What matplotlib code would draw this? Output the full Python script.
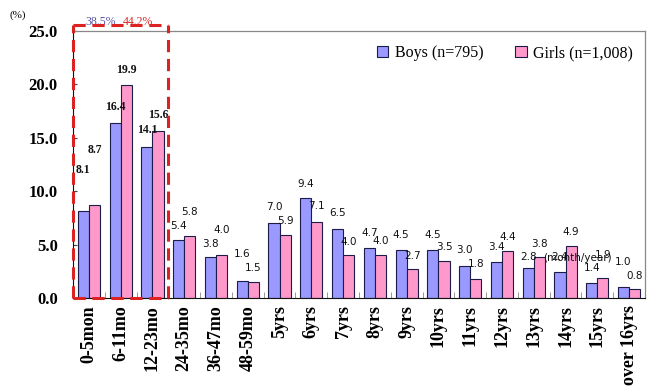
import matplotlib
matplotlib.use("Agg")
import matplotlib.pyplot as plt
import numpy as np

categories = ["0-5mon", "6-11mo", "12-23mo", "24-35mo", "36-47mo", "48-59mo",
              "5yrs", "6yrs", "7yrs", "8yrs", "9yrs", "10yrs", "11yrs", "12yrs",
              "13yrs", "14yrs", "15yrs", "over 16yrs"]
boys = [8.1, 16.4, 14.1, 5.4, 3.8, 1.6, 7.0, 9.4, 6.5, 4.7, 4.5, 4.5, 3.0, 3.4, 2.8, 2.4, 1.4, 1.0]
girls = [8.7, 19.9, 15.6, 5.8, 4.0, 1.5, 5.9, 7.1, 4.0, 4.0, 2.7, 3.5, 1.8, 4.4, 3.8, 4.9, 1.9, 0.8]
yticks = [0, 5, 10, 15, 20, 25]
boys_label = "Boys (n=795)"
girls_label = "Girls (n=1,008)"
share_boys = "38.5%"
share_girls = "44.2%"

# label vertical offsets (pixels above bar top)
boys_dy = [41, 16, 17, 14, 13, 27, 16, 14, 16, 15, 15, 15, 16, 15, 11, 15, 15, 25]
girls_dy = [55, 15, 16, 24, 25, 14, 14, 16, 13, 14, 13, 14, 15, 14, 13, 14, 23, 13]

boy_col = "#9999FF"
girl_col = "#FF99CC"
edge = "#1c1c48"
serif = "Liberation Serif"

fig = plt.figure(figsize=(6.55, 3.9), dpi=100)
ax = fig.add_axes([73/655, 1-298/390, (645-73)/655, (298-31)/390])

x = np.arange(len(categories))
w = 0.35
ax.bar(x - w/2, boys, w, color=boy_col, edgecolor=edge, linewidth=0.8, label=boys_label, zorder=2)
ax.bar(x + w/2, girls, w, color=girl_col, edgecolor=edge, linewidth=0.8, label=girls_label, zorder=2)

for i in range(len(categories)):
    if i < 3:
        kw = dict(family=serif, fontweight="bold", fontsize=8.5)
    else:
        kw = dict(family="DejaVu Sans", fontsize=7.5)
    ax.annotate(f"{boys[i]:.1f}", (x[i] - w/2, boys[i]), xytext=(0, boys_dy[i]),
                textcoords="offset pixels", ha="center", va="center", color="#111111", **kw)
    ax.annotate(f"{girls[i]:.1f}", (x[i] + w/2, girls[i]), xytext=(0, girls_dy[i]),
                textcoords="offset pixels", ha="center", va="center", color="#111111", **kw)

ax.set_xlim(-0.5, len(categories) - 0.5)
ax.set_ylim(0, 25)
ax.set_yticks(yticks)
ax.set_yticklabels([f"{v:.1f}" for v in yticks], family=serif, fontweight="bold", fontsize=12)
ax.set_xticks(x)
ax.set_xticklabels(categories, rotation=90, family=serif, fontweight="bold", fontsize=13)
ax.tick_params(axis="x", which="major", length=0, pad=5)
ax.set_xticks(np.arange(len(categories) + 1) - 0.5, minor=True)
ax.tick_params(axis="x", which="minor", direction="in", length=4, color="#888888")
ax.tick_params(axis="y", direction="in", length=3, pad=11, color="#444444")

for s in ["top", "right"]:
    ax.spines[s].set_color("#888888")
    ax.spines[s].set_linewidth(0.9)
ax.spines["bottom"].set_color("#111111")
ax.spines["left"].set_color("#111111")

# red dashed box around the first three groups
red = "#DD2222"
top = 25.55
x0, x1 = -0.5, 2.5
lkw = dict(color=red, linewidth=2.2, linestyle=(0, (4, 2.2)), clip_on=False, zorder=5)
ax.plot([x0, x0], [0, top], **lkw)
ax.plot([x1, x1], [0, top], **lkw)
ax.plot([x0, x1], [top, top], **lkw)
ax.plot([x0, x1], [0, 0], **lkw)

ax.text(0.38, 25.85, share_boys, color="#5555AA", family=serif, fontsize=8.5, ha="center", va="center", clip_on=False, zorder=4)
ax.text(1.53, 25.85, share_girls, color=red, family=serif, fontsize=8.5, ha="center", va="center", clip_on=False, zorder=4)

ax.text(15.36, 3.75, "(month/year)", family="DejaVu Sans", fontsize=7.5, ha="center", va="center", color="#111111", zorder=6)

fig.text(18/655, 1-15/390, "(%)", family=serif, fontsize=8, ha="center", va="center")

leg = ax.legend(loc="center", bbox_to_anchor=(505/655, 1-53/390), bbox_transform=fig.transFigure,
                ncol=2, frameon=False, handlelength=0.7, handleheight=0.7, handletextpad=0.4,
                columnspacing=2.0, prop=dict(family=serif, size=11.5))

fig.savefig("out.png", dpi=100)
